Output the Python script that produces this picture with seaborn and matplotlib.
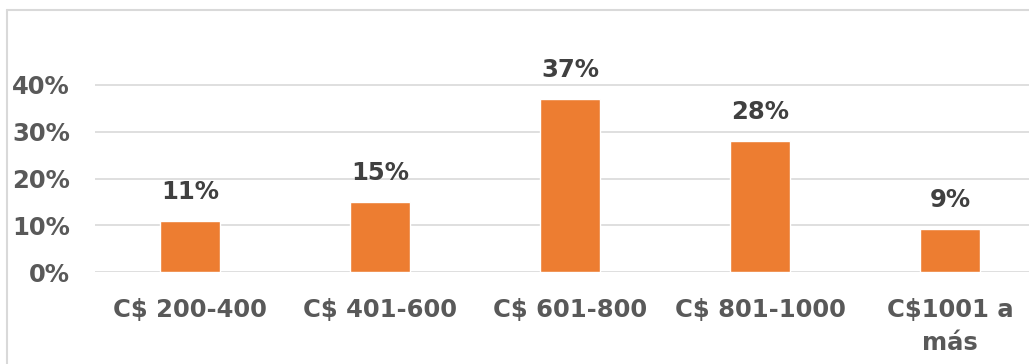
import matplotlib
matplotlib.use("Agg")
import matplotlib.pyplot as plt
import seaborn as sns
import pandas as pd
from matplotlib.lines import Line2D

categories = ["C$ 200-400", "C$ 401-600", "C$ 601-800", "C$ 801-1000", "C$1001 a\nmás"]
values = [0.11, 0.15, 0.37, 0.28, 0.092]
labels = ["11%", "15%", "37%", "28%", "9%"]
yticks = [0.0, 0.1, 0.2, 0.3, 0.4]
ytick_labels = ["0%", "10%", "20%", "30%", "40%"]

sns.set_theme(style="white")
plt.rcParams['font.family'] = ['DejaVu Sans']

W, H = 1029, 364
fig = plt.figure(figsize=(W / 100, H / 100), dpi=100)
ax = fig.add_axes([95 / W, (H - 272) / H, 934 / W, 233.75 / H])

df = pd.DataFrame({"cat": categories, "val": values})
sns.barplot(data=df, x="cat", y="val", color="#ED7D31", saturation=1, width=0.315, ax=ax, zorder=3)

ax.set_xlim(-0.5, 4.416)
ax.set_ylim(0, 0.5)
ax.set_yticks(yticks)
ax.set_yticklabels(ytick_labels)
for y in yticks:
    ax.axhline(y, color="#D9D9D9", lw=1.2, zorder=1)
for s in ax.spines.values():
    s.set_visible(False)
ax.set_xlabel("")
ax.set_ylabel("")
ax.tick_params(axis="y", length=0, pad=18, labelsize=17.5, labelcolor="#595959")
ax.tick_params(axis="x", length=0, pad=19, labelsize=17.5, labelcolor="#595959")
for t in ax.get_yticklabels() + ax.get_xticklabels():
    t.set_fontweight("bold")
for t in ax.get_xticklabels():
    t.set_linespacing(1.45)

for i, (v, lab) in enumerate(zip(values, labels)):
    ax.annotate(lab, (i, v), xytext=(0, 12), textcoords="offset points",
                ha="center", va="bottom", fontsize=17.5, fontweight="bold", color="#404040")

# outer chart border (partially visible)
fig.add_artist(Line2D([7 / W, 1.0], [1 - 10 / H, 1 - 10 / H], transform=fig.transFigure, color="#D9D9D9", lw=1.5))
fig.add_artist(Line2D([7 / W, 7 / W], [0, 1 - 10 / H], transform=fig.transFigure, color="#D9D9D9", lw=1.5))

fig.savefig("out.png", dpi=100, facecolor="white")
